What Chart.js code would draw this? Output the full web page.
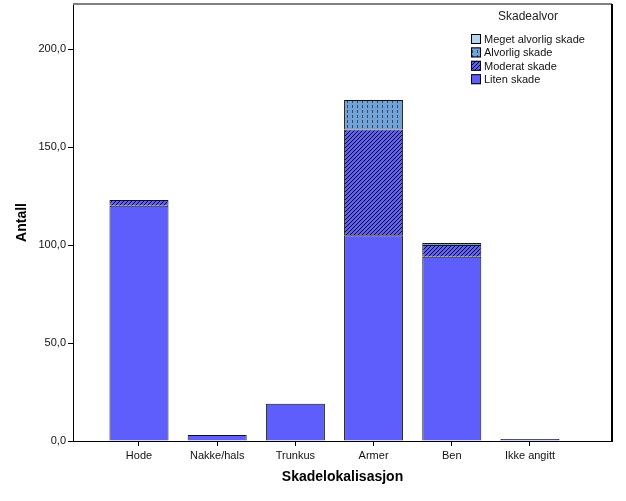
<!DOCTYPE html>
<html>
<head>
<meta charset="utf-8">
<script src="https://cdn.jsdelivr.net/npm/chart.js@4"></script>
<style>
  html, body { margin: 0; padding: 0; background: #fff; }
</style>
</head>
<body>
<canvas id="myChart" width="626" height="501"></canvas>
<script>
const kategorier = ['Hode', 'Nakke/hals', 'Trunkus', 'Armer', 'Ben', 'Ikke angitt'];
const liten = [120, 3, 19, 105, 94, 1];
const moderat = [3, 0, 0, 54, 6, 0];
const alvorlig = [0, 0, 0, 15, 1, 0];
const megetAlvorlig = [0, 0, 0, 0, 0, 0];
const yTicks = [0, 50, 100, 150, 200];

Chart.defaults.font.family = "'Liberation Sans', Arial, sans-serif";
Chart.defaults.color = '#111';

// lager fyllmonstre
function moderatMonster() {
  const c = document.createElement('canvas');
  c.width = 4; c.height = 4;
  const g = c.getContext('2d');
  g.fillStyle = '#5e5efd';
  g.fillRect(0, 0, 4, 4);
  for (let x = 0; x < 4; x++) {
    for (let y = 0; y < 4; y++) {
      if ((x + y) % 4 == 0) { g.fillStyle = '#000'; g.fillRect(x, y, 1, 1); }
    }
  }
  return g.createPattern(c, 'repeat');
}

function alvorligMonster() {
  const c = document.createElement('canvas');
  c.width = 5; c.height = 5;
  const g = c.getContext('2d');
  g.fillStyle = '#72a2d6';
  g.fillRect(0, 0, 5, 5);
  g.fillStyle = '#2c4a6c';
  g.fillRect(2, 0, 1, 3);
  return g.createPattern(c, 'repeat');
}

const farger = {
  liten: '#5e5efd',
  moderat: moderatMonster(),
  alvorlig: alvorligMonster(),
  meget: '#b4d4f0'
};

const tilPunkter = arr => arr.map((v, i) => ({ x: i, y: v }));

const legendeRekker = [
  { tekst: 'Meget alvorlig skade', farge: farger.meget },
  { tekst: 'Alvorlig skade', farge: farger.alvorlig },
  { tekst: 'Moderat skade', farge: farger.moderat },
  { tekst: 'Liten skade', farge: farger.liten }
];

const rammePlugin = {
  id: 'ramme',
  afterDraw(chart) {
    const { ctx, chartArea: a } = chart;
    ctx.save();
    ctx.lineWidth = 2;
    ctx.strokeStyle = '#808080';
    ctx.beginPath(); ctx.moveTo(a.left, a.top); ctx.lineTo(a.right, a.top); ctx.stroke();
    ctx.strokeStyle = '#000';
    ctx.beginPath(); ctx.moveTo(a.right, a.top); ctx.lineTo(a.right, a.bottom); ctx.stroke();

    // legende
    const x0 = a.right - 141;
    ctx.fillStyle = '#222';
    ctx.font = "12px 'Liberation Sans', Arial, sans-serif";
    ctx.textAlign = 'center';
    ctx.textBaseline = 'middle';
    ctx.fillText('Skadealvor', x0 + 57, 17);
    ctx.font = "11px 'Liberation Sans', Arial, sans-serif";
    ctx.textAlign = 'left';
    ctx.lineWidth = 1;
    legendeRekker.forEach((r, i) => {
      const y = 39 + i * 13.4;
      ctx.fillStyle = r.farge;
      ctx.fillRect(x0, y - 5, 10, 10);
      ctx.strokeStyle = '#000';
      ctx.strokeRect(x0 + 0.5, y - 4.5, 9, 9);
      ctx.fillStyle = '#111';
      ctx.fillText(r.tekst, x0 + 13, y + 1);
    });
    ctx.restore();
  }
};

const ctx = document.getElementById('myChart');
new Chart(ctx, {
  type: 'bar',
  data: {
    datasets: [
      { label: 'Liten skade', data: tilPunkter(liten), backgroundColor: farger.liten },
      { label: 'Moderat skade', data: tilPunkter(moderat), backgroundColor: farger.moderat },
      { label: 'Alvorlig skade', data: tilPunkter(alvorlig), backgroundColor: farger.alvorlig },
      { label: 'Meget alvorlig skade', data: tilPunkter(megetAlvorlig), backgroundColor: farger.meget }
    ]
  },
  options: {
    responsive: false,
    animation: false,
    layout: { padding: { left: 0, top: 4, right: 14, bottom: 0 } },
    datasets: {
      bar: {
        borderColor: '#111',
        borderWidth: 1,
        barPercentage: 0.755,
        categoryPercentage: 1
      }
    },
    plugins: {
      legend: { display: false },
      tooltip: { enabled: false }
    },
    scales: {
      x: {
        type: 'linear',
        stacked: true,
        offset: false,
        min: -0.844,
        max: 6.049,
        afterBuildTicks: s => { s.ticks = kategorier.map((c, i) => ({ value: i })); },
        afterFit: s => { s.height = 60; s.paddingLeft = 0; s.paddingRight = 0; },
        ticks: {
          autoSkip: false,
          maxRotation: 0,
          padding: 3,
          font: { size: 11 },
          callback: v => kategorier[v]
        },
        grid: { offset: false, drawOnChartArea: false, tickLength: 5, color: '#000' },
        border: { color: '#000', width: 1 },
        title: {
          display: true,
          text: 'Skadelokalisasjon',
          font: { size: 14, weight: 'bold' },
          color: '#000',
          padding: { top: 0, bottom: 15 }
        }
      },
      y: {
        stacked: true,
        min: 0,
        max: 223,
        afterBuildTicks: s => { s.ticks = yTicks.map(v => ({ value: v })); },
        afterFit: s => { s.width = 73; s.paddingTop = 0; s.paddingBottom = 0; },
        ticks: {
          padding: 2,
          font: { size: 11 },
          callback: v => v.toFixed(1).replace('.', ',')
        },
        grid: { drawOnChartArea: false, tickLength: 5, color: '#000' },
        border: { color: '#000', width: 1 },
        title: {
          display: true,
          text: 'Antall',
          font: { size: 14, weight: 'bold' },
          color: '#000',
          padding: { top: 14, bottom: 0 }
        }
      }
    }
  },
  plugins: [rammePlugin]
});
</script>
</body>
</html>
